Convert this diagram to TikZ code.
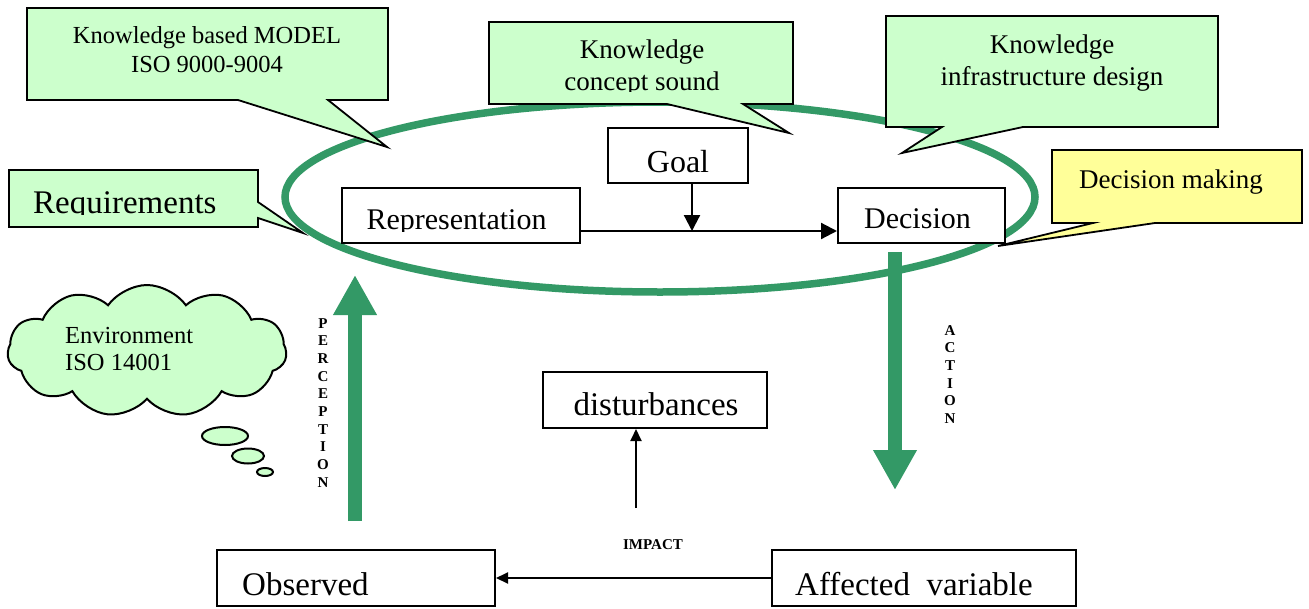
\documentclass[tikz,border=0pt]{standalone}
\usepackage{fontspec}
\setmainfont{Liberation Serif}
\usetikzlibrary{arrows.meta,shapes.symbols}
\definecolor{kgreen}{RGB}{51,153,102}
\definecolor{callg}{RGB}{204,255,204}
\definecolor{cally}{RGB}{255,255,153}
\newcommand{\myfs}[1]{\fontsize{#1}{#1}\selectfont}
\begin{document}
\begin{tikzpicture}[x=1pt,y=-1pt,
  box/.style={draw,line width=2pt,fill=white,inner sep=0pt},
  txt/.style={inner sep=0pt,anchor=base},
  txtw/.style={inner sep=0pt,anchor=base west},
  callout/.style={draw,line width=1.8pt,line join=miter,fill=callg},
  ring/.style={draw=kgreen,line width=7.5pt},
  garrow/.style={draw=kgreen,line width=14pt,-{Triangle[length=40pt,width=41pt]}},
  barrow/.style={draw,line width=2.2pt,-{Triangle[length=16pt,width=16pt]}},
  sarrow/.style={draw,line width=2pt,-{Triangle[length=12pt,width=11pt]}},
  vlabel/.style={inner sep=0pt,anchor=north,align=center,font=\bfseries\fontsize{15}{17.7}\selectfont},
  bubble/.style={draw,line width=2pt,fill=callg}
]
\useasboundingbox (0,0) rectangle (1309,608);

% main ellipse
\draw[ring] (660,197) ellipse [x radius=375pt, y radius=95pt];

% callouts
\draw[callout] (27,8) -- (388,8) -- (388,100) -- (328,100) -- (387,147) -- (238,100) -- (27,100) -- cycle;
\node[txt,font=\myfs{24.5}] (kbm1) at (207,43) {Knowledge based MODEL};
\node[txt,font=\myfs{24.5}] (kbm2) at (207,72) {ISO 9000-9004};

\draw[callout] (489,22) -- (793,22) -- (793,104) -- (743,104) -- (789,133) -- (667,104) -- (489,104) -- cycle;
\node[txt,font=\myfs{27}] (kcs1) at (642,58) {Knowledge};
\begin{scope}
\clip (490,60) rectangle (792,91.5);
\node[txt,font=\myfs{27}] (kcs2) at (642,90) {concept sound};
\end{scope}

\draw[callout] (886,16) -- (1218,16) -- (1218,127) -- (1023,127) -- (902,153) -- (942,127) -- (886,127) -- cycle;
\node[txt,font=\myfs{27}] (kid1) at (1052,53) {Knowledge};
\node[txt,font=\myfs{27}] (kid2) at (1052,85) {infrastructure design};

\draw[callout,fill=cally] (1052,150) -- (1302,150) -- (1302,223) -- (1155,223) -- (998,246) -- (1093,223) -- (1052,223) -- cycle;
\node[txt,font=\myfs{27}] (dm) at (1171,188) {Decision making};

\draw[callout] (9,170) -- (258,170) -- (258,202) -- (303,233) -- (258,218) -- (258,227) -- (9,227) -- cycle;
\begin{scope}
\clip (10,171) rectangle (257,214);
\node[txtw,font=\myfs{33}] (req) at (33,213) {Requirements};
\end{scope}

% boxes
\node[box,minimum width=238pt,minimum height=55pt] (rep) at (461,215.5) {};
\begin{scope}
\clip (343,189) rectangle (579,231);
\node[txt,font=\myfs{30}] (reptxt) at (456.5,229) {Representation};
\end{scope}
\node[box,minimum width=140pt,minimum height=55pt] (goal) at (678,155.5) {};
\node[txt,font=\myfs{32}] (goaltxt) at (678,172) {Goal};
\node[box,minimum width=167pt,minimum height=55pt] (dec) at (921.5,215.5) {};
\node[txt,font=\myfs{30}] (dectxt) at (917.5,228) {Decision};
\node[box,minimum width=224pt,minimum height=56pt] (dist) at (655,400) {};
\node[txt,font=\myfs{33}] (disttxt) at (656,415) {disturbances};
\node[box,minimum width=278pt,minimum height=56pt] (obs) at (356,578) {};
\node[txtw,font=\myfs{33}] (obstxt) at (242,595) {Observed};
\node[box,minimum width=304pt,minimum height=56pt] (aff) at (924,578) {};
\node[txtw,font=\myfs{33}] (afftxt) at (795,595) {Affected\ \ variable};

% black connectors
\coordinate (mid) at (692,231);
\draw[barrow] (rep.east |- mid) -- (dec.west |- mid);
\draw[barrow] (goal.south -| mid) -- (mid);
\draw[sarrow] (aff.west) -- (obs.east);
\coordinate (imp) at (636,508);
\draw[sarrow] (imp) -- (imp |- dist.south);
\node[inner sep=0pt,font=\bfseries\myfs{15}] (impact) at (653,545) {IMPACT};

% green arrows
\coordinate (percB) at (355,521);
\coordinate (percT) at (355,275);
\draw[garrow] (percB) -- (percT);
\coordinate (actT) at (895,252);
\coordinate (actB) at (895,490);
\draw[garrow] (actT) -- (actB);
\node[vlabel] (perc) at (323,318) {P\\E\\R\\C\\E\\P\\T\\I\\O\\N};
\node[vlabel] (act) at (950,325) {A\\C\\T\\I\\O\\N};

% cloud
\node[cloud,cloud puffs=11,cloud puff arc=110,aspect=2.1,draw,line width=2pt,fill=callg,
  minimum width=279pt,minimum height=132pt,inner sep=0pt] (env) at (147,351) {};
\node[txtw,font=\myfs{24.5}] (env1) at (65,343) {Environment};
\node[txtw,font=\myfs{24.5}] (env2) at (65,370) {ISO 14001};
\draw[bubble] (225,436) ellipse [x radius=23pt, y radius=9pt];
\draw[bubble] (248,456) ellipse [x radius=16pt, y radius=7.5pt];
\draw[bubble] (265,472) ellipse [x radius=8pt, y radius=4pt];
\end{tikzpicture}
\end{document}
